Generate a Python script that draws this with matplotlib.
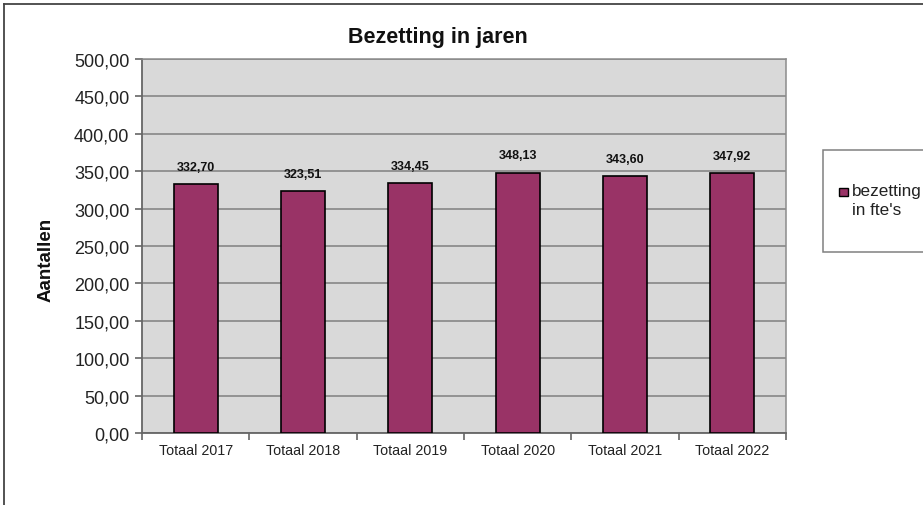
import matplotlib.pyplot as plt
from matplotlib.lines import Line2D
from matplotlib.patches import Rectangle
from matplotlib.ticker import FuncFormatter, MultipleLocator, FixedLocator

plt.rcParams['font.family'] = ['Liberation Sans', 'DejaVu Sans']

categories = ['Totaal 2017', 'Totaal 2018', 'Totaal 2019',
              'Totaal 2020', 'Totaal 2021', 'Totaal 2022']
fte = [332.70, 323.51, 334.45, 348.13, 343.60, 347.92]
series_name = "bezetting\nin fte's"

bar_color = '#993366'
W, H = 923, 506

fig = plt.figure(figsize=(W / 100, H / 100), dpi=100)
ax = fig.add_axes([142 / W, 1 - 434 / H, (786 - 142) / W, (434 - 60) / H])
ax.set_facecolor('#d9d9d9')

x = list(range(len(categories)))
bars = ax.bar(x, fte, width=0.41, color=bar_color, edgecolor='black',
              linewidth=1.2, zorder=3, label=series_name)

for xi, v in zip(x, fte):
    ax.annotate(f'{v:.2f}'.replace('.', ','), (xi, v), xytext=(0, 8),
                textcoords='offset points', ha='center', va='bottom',
                fontsize=9, fontweight='bold', color='#111111')

ax.set_xlim(-0.5, len(categories) - 0.5)
ax.set_ylim(0, 500)
ax.yaxis.set_major_locator(MultipleLocator(50))
ax.yaxis.set_major_formatter(FuncFormatter(lambda v, _: f'{v:.2f}'.replace('.', ',')))
ax.grid(axis='y', color='#7f7f7f', linewidth=1.1, zorder=1)

ax.set_xticks(x)
ax.set_xticklabels(categories, fontsize=10.3, color='#222222')
ax.tick_params(axis='x', which='major', length=0, pad=7)
ax.xaxis.set_minor_locator(FixedLocator([i - 0.5 for i in range(len(categories) + 1)]))
ax.tick_params(axis='x', which='minor', length=5, color='#666666', width=1.2)
ax.tick_params(axis='y', length=5, color='#666666', width=1.2, labelsize=13,
               labelcolor='#222222', pad=4)

for side in ['left', 'bottom']:
    ax.spines[side].set_color('#666666')
    ax.spines[side].set_linewidth(1.3)
for side in ['top', 'right']:
    ax.spines[side].set_color('#8c8c8c')
    ax.spines[side].set_linewidth(1.1)

fig.text(438 / W, 1 - 38 / H, 'Bezetting in jaren', ha='center', va='center',
         fontsize=15.5, fontweight='bold', color='#111111')
fig.text(46 / W, 1 - 260 / H, 'Aantallen', ha='center', va='center',
         rotation=90, fontsize=13.5, fontweight='bold', color='#111111')

# legend box, clipped by the right edge of the chart area
fig.patches.append(Rectangle((823 / W, 1 - 253 / H), 140 / W, 102 / H,
                             transform=fig.transFigure, facecolor='white',
                             edgecolor='#808080', linewidth=1.1))
# legend key beside the first line of the series name
fig.patches.append(Rectangle((839 / W, 1 - 197 / H), 9 / W, 8 / H,
                             transform=fig.transFigure, facecolor=bar_color,
                             edgecolor='black', linewidth=1))
fig.text(852 / W, 1 - 184 / H, series_name, ha='left', va='top',
         fontsize=12.3, linespacing=1.3, color='#222222')

# chart area border (top and left edges)
fig.add_artist(Line2D([4 / W, 4 / W], [0, 1 - 5 / H], transform=fig.transFigure,
                      color='#444444', linewidth=1.3))
fig.add_artist(Line2D([4 / W, 1], [1 - 5 / H, 1 - 5 / H], transform=fig.transFigure,
                      color='#444444', linewidth=1.3))

fig.savefig('out.png', dpi=100)
